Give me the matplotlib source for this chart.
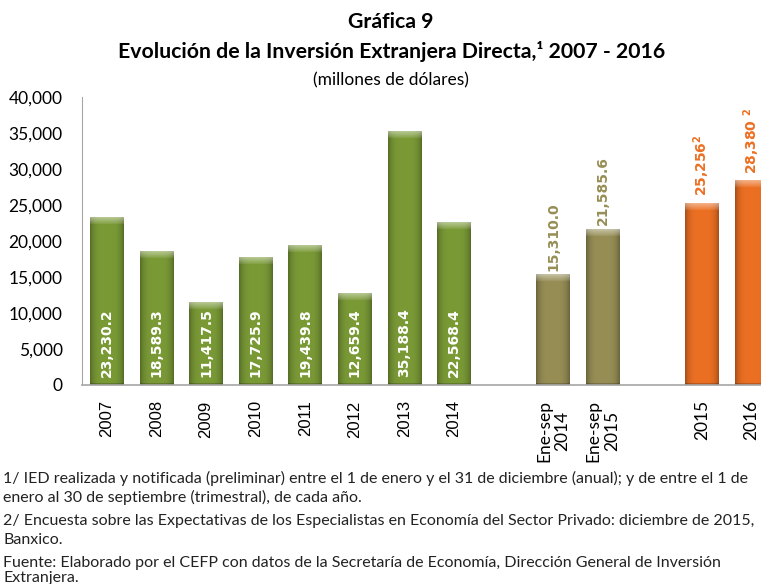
import numpy as np
import matplotlib.pyplot as plt
from matplotlib.colors import to_rgb
from matplotlib.ticker import FuncFormatter

# datos (millones de dólares)
annual_labels = ['2007', '2008', '2009', '2010', '2011', '2012', '2013', '2014']
annual_values = [23230.2, 18589.3, 11417.5, 17725.9, 19439.8, 12659.4, 35188.4, 22568.4]
enesep_labels = ['Ene-sep\n2014', 'Ene-sep\n2015']
enesep_values = [15310.0, 21585.6]
forecast_labels = ['2015', '2016']
forecast_values = [25256, 28380]
forecast_notes = ['$^{\\mathbf{2}}$', '$\\ ^{\\mathbf{2}}$']

title1 = 'Gráfica 9'
title2 = 'Evolución de la Inversión Extranjera Directa,¹ 2007 - 2016'
subtitle = '(millones de dólares)'
notes = [
    '1/ IED realizada y notificada (preliminar) entre el 1 de enero y el 31 de diciembre (anual); y de entre el 1 de',
    'enero al 30 de septiembre (trimestral), de cada año.',
    '2/ Encuesta sobre las Expectativas de los Especialistas en Economía del Sector Privado: diciembre de 2015,',
    'Banxico.',
    'Fuente: Elaborado por el CEFP con datos de la Secretaría de Economía, Dirección General de Inversión',
    'Extranjera.',
]

green = '#7A9A36'
khaki = '#968E55'
orange = '#EC7023'

x_annual = np.arange(len(annual_values))
x_enesep = x_annual[-1] + 2 + np.arange(len(enesep_values))
x_forecast = x_enesep[-1] + 2 + np.arange(len(forecast_values))

fig = plt.figure(figsize=(7.61, 5.84), dpi=100)
ax = fig.add_axes([0.1078, 0.3408, 0.9125, 0.4932])
ax.set_xlim(-0.5, x_forecast[-1] + 0.5)
ax.set_ylim(0, 40000)


def shade(bars, base):
    # relleno con bisel: bordes oscuros y franja clara arriba
    rgb = np.array(to_rgb(base))
    for b in bars:
        x0, y0, w, h = b.get_x(), b.get_y(), b.get_width(), b.get_height()
        p0 = ax.transData.transform((x0, y0))
        p1 = ax.transData.transform((x0 + w, y0 + h))
        wp = max(int(round(p1[0] - p0[0])), 2)
        hp = max(int(round(p1[1] - p0[1])), 2)
        img = np.ones((hp, wp, 3)) * rgb
        c = np.linspace(-1, 1, wp)
        dark = 1 - 0.28 * np.abs(c) ** 4
        img *= dark[None, :, None]
        top = np.zeros(hp)
        top[:7] = np.linspace(0.45, 0.1, 7)
        img = img + (1 - img) * top[:, None, None]
        img[-2:, :, :] *= 0.8
        ax.imshow(np.clip(img, 0, 1), extent=(x0, x0 + w, y0, y0 + h),
                  aspect='auto', origin='upper', zorder=1.5, interpolation='bilinear')


bw = 0.68
b1 = ax.bar(x_annual, annual_values, width=bw, color=green, linewidth=0)
b2 = ax.bar(x_enesep, enesep_values, width=bw, color=khaki, linewidth=0)
b3 = ax.bar(x_forecast, forecast_values, width=bw, color=orange, linewidth=0)
shade(b1, green)
shade(b2, khaki)
shade(b3, orange)

for xi, v in zip(x_annual, annual_values):
    ax.annotate(f'{v:,.1f}', (xi, 0), xytext=(0, 6), textcoords='offset points',
                rotation=90, ha='center', va='bottom', color='white',
                fontsize=10, fontweight='bold', family='DejaVu Sans')
for xi, v in zip(x_enesep, enesep_values):
    ax.annotate(f'{v:,.1f}', (xi, v), xytext=(0, 3), textcoords='offset points',
                rotation=90, ha='center', va='bottom', color=khaki,
                fontsize=10, fontweight='bold', family='DejaVu Sans')
for xi, v, n in zip(x_forecast, forecast_values, forecast_notes):
    ax.annotate(f'{v:,.0f}{n}', (xi, v), xytext=(0, 5), textcoords='offset points',
                rotation=90, ha='center', va='bottom', color=orange,
                fontsize=10, fontweight='bold', family='DejaVu Sans')

ax.set_xlim(-0.5, x_forecast[-1] + 0.5)
ax.set_ylim(0, 40000)
ax.set_yticks(np.arange(0, 40001, 5000))
ax.yaxis.set_major_formatter(FuncFormatter(lambda v, p: f'{v:,.0f}'))
for lab in ax.get_yticklabels():
    lab.set_fontfamily('Lato')
    lab.set_fontsize(12.5)

ticks = list(x_annual) + list(x_enesep) + list(x_forecast)
labels = annual_labels + enesep_labels + forecast_labels
ax.set_xticks(ticks)
ax.set_xticklabels(labels, rotation=90, multialignment='center')
for i, lab in enumerate(ax.get_xticklabels()):
    if i < len(annual_labels):
        lab.set_fontfamily('Liberation Sans')
        lab.set_fontsize(12)
    else:
        lab.set_fontfamily('Lato')
        lab.set_fontsize(12.5)
ax.tick_params(axis='x', length=0, pad=11)
ax.tick_params(axis='y', length=0, pad=14)

for s in ['top', 'right']:
    ax.spines[s].set_visible(False)
ax.spines['left'].set_color('#A6A6A6')
ax.spines['bottom'].set_color('#A6A6A6')
ax.spines['bottom'].set_linewidth(1.2)

fig.text(0.514, 1 - 22 / 584, title1, ha='center', va='center', fontsize=15.3,
         fontweight='bold', family='Lato')
fig.text(0.514, 1 - 52 / 584, title2, ha='center', va='center', fontsize=15.3,
         fontweight='bold', family='Lato')
fig.text(0.514, 1 - 80 / 584, subtitle, ha='center', va='center', fontsize=12.5,
         family='Lato')

note_y = [478, 497, 521, 540, 563, 578]
for y, t in zip(note_y, notes):
    fig.text(0.004, 1 - y / 584, t, ha='left', va='center', fontsize=11.5,
             family='Lato', color='#222222')

fig.savefig('out.png', dpi=100)
